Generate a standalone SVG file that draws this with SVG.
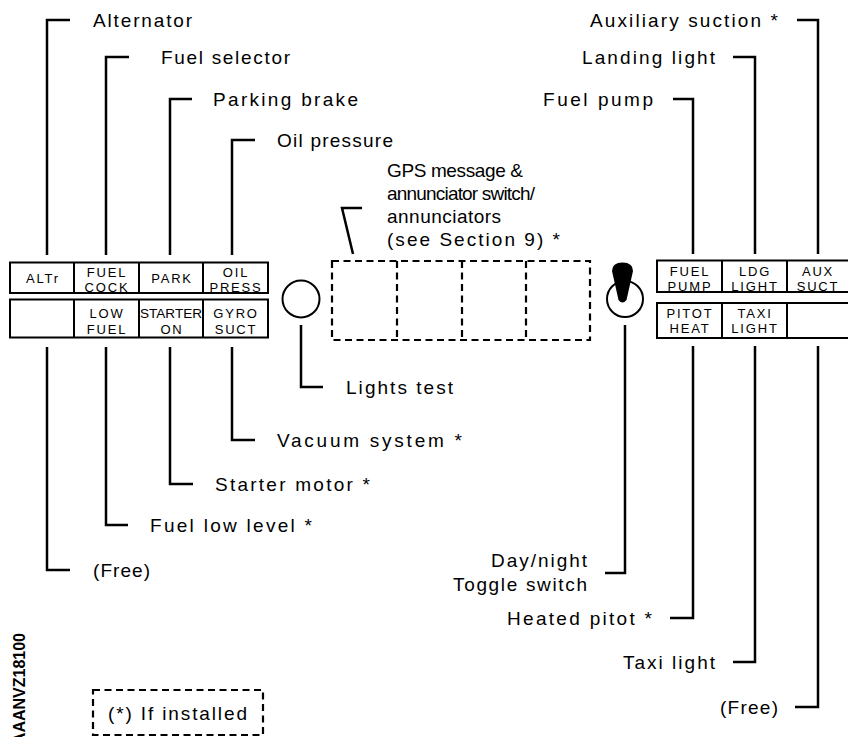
<svg xmlns="http://www.w3.org/2000/svg" width="848" height="737" viewBox="0 0 848 737">
<style>
.lbl{font-family:"Liberation Sans",Arial,sans-serif;font-size:19px;fill:#000}
.pt{font-family:"Liberation Sans",Arial,sans-serif;font-size:13px;fill:#000;text-anchor:middle;letter-spacing:1.8px}
.ld{fill:none;stroke:#000;stroke-width:2.5}
.box{fill:#fff;stroke:#000;stroke-width:2}
.dv{stroke:#000;stroke-width:2}
.dash{fill:none;stroke:#000;stroke-width:2.2;stroke-dasharray:7 4.5}
</style>
<rect width="848" height="737" fill="#fff"/>
<g id="connectors">
<polyline class="ld" points="70,20 47,20 47,255"/>
<polyline class="ld" points="129,57 106,57 106,255"/>
<polyline class="ld" points="192,99 170,99 170,255"/>
<polyline class="ld" points="255,140 232,140 232,255"/>
<polyline class="ld" points="797,20 818,20 818,254"/>
<polyline class="ld" points="733,57 755,57 755,254"/>
<polyline class="ld" points="673,99 693,99 693,254"/>
<polyline class="ld" points="47,347 47,570 70,570"/>
<polyline class="ld" points="106,347 106,525 128,525"/>
<polyline class="ld" points="170,347 170,484 193,484"/>
<polyline class="ld" points="232,347 232,440 255,440"/>
<polyline class="ld" points="301,325 301,387 323,387"/>
<polyline class="ld" points="625,325 625,573 605,573"/>
<polyline class="ld" points="693,346 693,618 670,618"/>
<polyline class="ld" points="755,346 755,662 733,662"/>
<polyline class="ld" points="818,346 818,707 795,707"/>
<polyline class="ld" points="353,254 342,208 362,208" stroke-width="2"/>
</g>
<g id="left-panel">
<rect class="box" x="10" y="262.5" width="258" height="30.5"/>
<line class="dv" x1="74" y1="262.5" x2="74" y2="293"/>
<line class="dv" x1="139" y1="262.5" x2="139" y2="293"/>
<line class="dv" x1="203" y1="262.5" x2="203" y2="293"/>
<rect class="box" x="10" y="299.5" width="258" height="38"/>
<line class="dv" x1="74" y1="299.5" x2="74" y2="337.5"/>
<line class="dv" x1="139" y1="299.5" x2="139" y2="337.5"/>
<line class="dv" x1="203" y1="299.5" x2="203" y2="337.5"/>
<text class="pt" x="43" y="283">ALTr</text>
<text class="pt"><tspan x="107" y="277">FUEL</tspan><tspan x="107" y="292">COCK</tspan></text>
<text class="pt" x="172" y="283">PARK</text>
<text class="pt"><tspan x="236" y="277">OIL</tspan><tspan x="236" y="292">PRESS</tspan></text>
<text class="pt"><tspan x="107" y="318">LOW</tspan><tspan x="107" y="334">FUEL</tspan></text>
<text class="pt" style="letter-spacing:0"><tspan x="171" y="318" textLength="62" lengthAdjust="spacingAndGlyphs">STARTER</tspan><tspan x="172" y="334" style="letter-spacing:1.8px">ON</tspan></text>
<text class="pt"><tspan x="236" y="318">GYRO</tspan><tspan x="236" y="334">SUCT</tspan></text>
</g>
<g id="right-panel">
<rect class="box" x="657" y="260.5" width="200" height="31.5"/>
<line class="dv" x1="722" y1="260.5" x2="722" y2="292"/>
<line class="dv" x1="787" y1="260.5" x2="787" y2="292"/>
<rect class="box" x="657" y="303" width="200" height="35"/>
<line class="dv" x1="722" y1="303" x2="722" y2="338"/>
<line class="dv" x1="787" y1="303" x2="787" y2="338"/>
<text class="pt"><tspan x="690" y="276">FUEL</tspan><tspan x="690" y="291">PUMP</tspan></text>
<text class="pt"><tspan x="755" y="276">LDG</tspan><tspan x="755" y="291">LIGHT</tspan></text>
<text class="pt"><tspan x="818" y="276">AUX</tspan><tspan x="818" y="291">SUCT</tspan></text>
<text class="pt"><tspan x="690" y="318">PITOT</tspan><tspan x="690" y="333">HEAT</tspan></text>
<text class="pt"><tspan x="755" y="318">TAXI</tspan><tspan x="755" y="333">LIGHT</tspan></text>
</g>
<g id="lights-test-button">
<circle cx="301" cy="299" r="18.5" fill="#fff" stroke="#000" stroke-width="2"/>
</g>
<g id="gps-annunciators">
<rect class="dash" x="332" y="261" width="258" height="79"/>
<line class="dash" x1="397" y1="261" x2="397" y2="340"/>
<line class="dash" x1="462" y1="261" x2="462" y2="340"/>
<line class="dash" x1="526" y1="261" x2="526" y2="340"/>
</g>
<g id="toggle-switch">
<circle cx="625" cy="299" r="18" fill="#fff" stroke="#000" stroke-width="2"/>
<path d="M612,271 Q612,262.5 622.5,262.5 Q633,262.5 633,271 L626.5,300 Q622.5,305 618.5,300 Z" fill="#000"/>
</g>
<g id="labels">
<text class="lbl" x="93" y="26.5" textLength="99" lengthAdjust="spacing">Alternator</text>
<text class="lbl" x="161" y="63.5" textLength="129" lengthAdjust="spacing">Fuel selector</text>
<text class="lbl" x="213" y="105.5" textLength="145" lengthAdjust="spacing">Parking brake</text>
<text class="lbl" x="277" y="146.5" textLength="116" lengthAdjust="spacing">Oil pressure</text>
<text class="lbl" x="778" y="26.5" text-anchor="end" textLength="188" lengthAdjust="spacing">Auxiliary suction *</text>
<text class="lbl" x="715" y="63.5" text-anchor="end" textLength="133" lengthAdjust="spacing">Landing light</text>
<text class="lbl" x="653" y="105.5" text-anchor="end" textLength="110" lengthAdjust="spacing">Fuel pump</text>
<text class="lbl"><tspan x="387" y="177" textLength="136" lengthAdjust="spacing">GPS message &amp;</tspan><tspan x="387" y="200" textLength="148" lengthAdjust="spacing">annunciator switch/</tspan><tspan x="387" y="223" textLength="114" lengthAdjust="spacing">annunciators</tspan><tspan x="387" y="246" textLength="173" lengthAdjust="spacing">(see Section 9) *</tspan></text>
<text class="lbl" x="346" y="393.5" textLength="107" lengthAdjust="spacing">Lights test</text>
<text class="lbl" x="277" y="446.5" textLength="185" lengthAdjust="spacing">Vacuum system *</text>
<text class="lbl" x="215" y="490.5" textLength="155" lengthAdjust="spacing">Starter motor *</text>
<text class="lbl" x="150" y="531.5" textLength="162" lengthAdjust="spacing">Fuel low level *</text>
<text class="lbl" x="93" y="576.5" textLength="57" lengthAdjust="spacing">(Free)</text>
<text class="lbl" text-anchor="end"><tspan x="587" y="567" textLength="96" lengthAdjust="spacing">Day/night</tspan><tspan x="587" y="591" textLength="134" lengthAdjust="spacing">Toggle switch</tspan></text>
<text class="lbl" x="652" y="624.5" text-anchor="end" textLength="145" lengthAdjust="spacing">Heated pitot *</text>
<text class="lbl" x="715" y="668.5" text-anchor="end" textLength="92" lengthAdjust="spacing">Taxi light</text>
<text class="lbl" x="778" y="713.5" text-anchor="end" textLength="58" lengthAdjust="spacing">(Free)</text>
</g>
<g id="legend">
<rect class="dash" x="93" y="690" width="170" height="45"/>
<text class="lbl" x="108" y="720" textLength="139" lengthAdjust="spacing">(*) If installed</text>
</g>
<text class="lbl" transform="translate(25,633) rotate(-90)" text-anchor="end" style="font-size:16px;font-weight:bold">AAANVZ18100</text>
</svg>
